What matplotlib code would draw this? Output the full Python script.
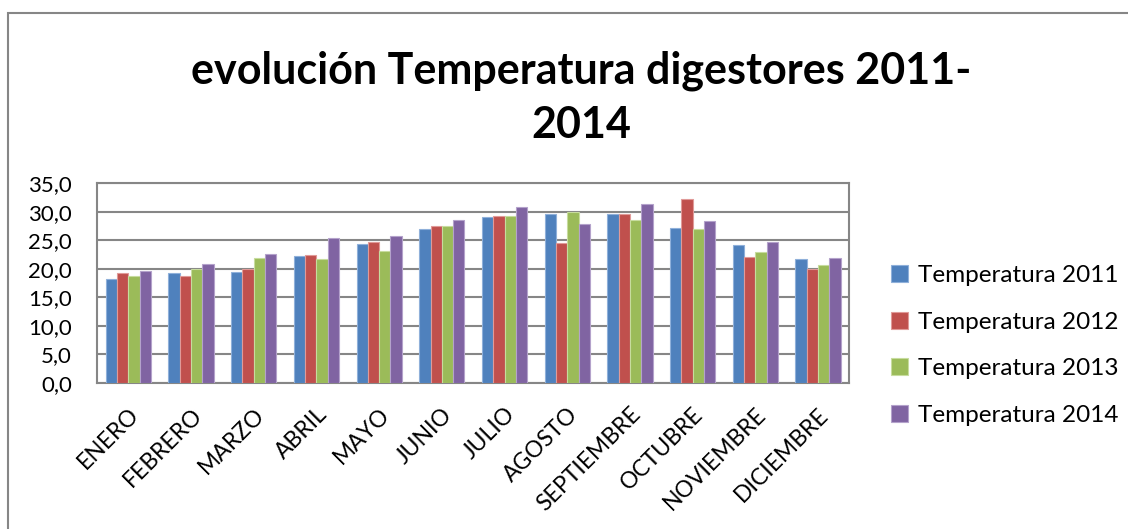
import matplotlib.pyplot as plt
import numpy as np
from matplotlib.patches import Rectangle

plt.rcParams['font.family'] = ['Lato', 'DejaVu Sans']

meses = ["ENERO", "FEBRERO", "MARZO", "ABRIL", "MAYO", "JUNIO", "JULIO",
         "AGOSTO", "SEPTIEMBRE", "OCTUBRE", "NOVIEMBRE", "DICIEMBRE"]
t2011 = [18.2, 19.2, 19.4, 22.3, 24.3, 26.9, 29.1, 29.5, 29.6, 27.2, 24.2, 21.7]
t2012 = [19.2, 18.7, 20.0, 22.4, 24.7, 27.5, 29.2, 24.5, 29.5, 32.2, 22.1, 20.0]
t2013 = [18.8, 19.9, 21.8, 21.7, 23.1, 27.5, 29.3, 30.0, 28.6, 27.0, 23.0, 20.6]
t2014 = [19.6, 20.8, 22.5, 25.4, 25.7, 28.5, 30.8, 27.9, 31.4, 28.4, 24.7, 21.9]
series = [("Temperatura 2011", t2011, "#4F81BD", "#8FB0DA"),
          ("Temperatura 2012", t2012, "#C0504D", "#E09A98"),
          ("Temperatura 2013", t2013, "#9BBB59", "#C7DC9E"),
          ("Temperatura 2014", t2014, "#8064A2", "#B4A2CB")]
yticks = np.arange(0, 35.1, 5)

fig = plt.figure(figsize=(11.28, 5.29), dpi=100)
ax = fig.add_axes([0.086, 0.276, 0.667, 0.378])

x = np.arange(len(meses))
w = 0.18
for i, (name, vals, col, edge) in enumerate(series):
    ax.bar(x + (i - 1.5) * w, vals, w, color=col, edgecolor=edge,
           linewidth=0.8, label=name, zorder=3)

ax.set_xlim(-0.5, len(meses) - 0.5)
ax.set_ylim(0, 35)
ax.set_yticks(yticks)
ax.set_yticklabels([f"{v:.1f}".replace(".", ",") for v in yticks], fontsize=16)
ax.set_xticks(x)
ax.set_xticklabels(meses, rotation=45, ha='right', va='top',
                   rotation_mode='anchor', fontsize=16.5)
ax.tick_params(axis='x', length=0, pad=15)
ax.tick_params(axis='y', length=0, pad=18)
ax.grid(axis='y', color='#868686', linewidth=1.5, zorder=0)
for s in ax.spines.values():
    s.set_color('#868686')
    s.set_linewidth(1.5)

ax.legend(loc='center left', bbox_to_anchor=(0.79, 0.347),
          bbox_transform=fig.transFigure, frameon=False,
          fontsize=17.5, handlelength=0.7, handleheight=0.7,
          handletextpad=0.4, labelspacing=1.05, borderaxespad=0,
          borderpad=0)

fig.text(0.515, 0.816, "evolución Temperatura digestores 2011-\n2014",
         ha='center', va='center', fontsize=31, fontweight='bold',
         linespacing=1.42)

# chart border
fig.patches.append(Rectangle((8 / 1128, -0.1), 1.2, 0.1 + 1 - 13 / 529,
                             transform=fig.transFigure, fill=False,
                             edgecolor='#868686', linewidth=1.5))

fig.savefig("out.png", dpi=100)
